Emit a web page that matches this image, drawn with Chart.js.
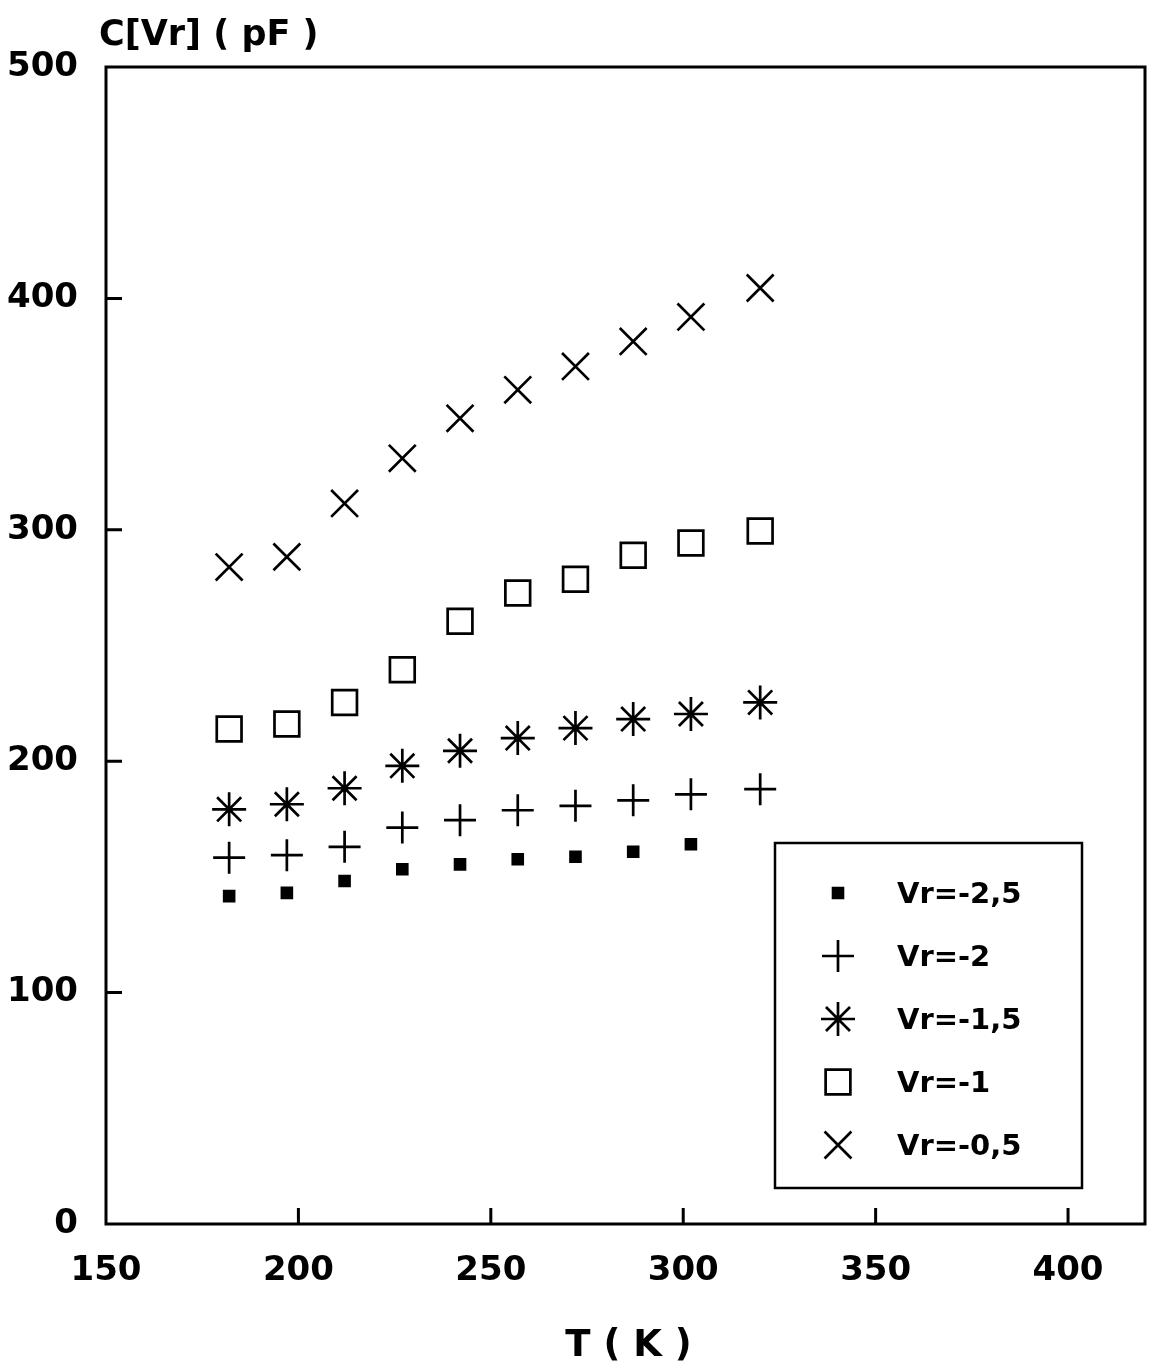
<!DOCTYPE html>
<html>
<head>
<meta charset="utf-8">
<title>C[Vr] vs T</title>
<script src="https://cdn.jsdelivr.net/npm/chart.js@4"></script>
<style>
  html, body { margin: 0; padding: 0; background: #fff; overflow: hidden; }
  #wrap { width: 1155px; height: 1362px; }
  canvas { display: block; }
</style>
</head>
<body>
<div id="wrap"><canvas id="myChart" width="1155" height="1362"></canvas></div>
<script>
// temperatures (K) and capacitance (pF)
const tempK = [182, 197, 212, 227, 242, 257, 272, 287, 302, 320];
const cVr25 = [141.7, 143.1, 148.2, 153.3, 155.4, 157.6, 158.7, 160.9, 164.1];
const cVr20 = [158.3, 159.4, 163.0, 171.3, 174.5, 178.8, 180.7, 183.1, 185.7, 187.9];
const cVr15 = [179.2, 181.4, 188.3, 198.0, 204.5, 210.0, 214.3, 218.2, 220.4, 225.4];
const cVr10 = [213.9, 216.1, 225.4, 239.5, 260.5, 272.7, 278.6, 289.0, 294.3, 299.5];
const cVr05 = [283.9, 288.3, 311.4, 330.9, 348.2, 360.5, 370.6, 381.4, 392.0, 404.5];

const seriesLabels = ["Vr=-2,5", "Vr=-2", "Vr=-1,5", "Vr=-1", "Vr=-0,5"];
const xTicks = [150, 200, 250, 300, 350, 400];
const yTicks = [0, 100, 200, 300, 400, 500];

const FONT = "'DejaVu Sans', sans-serif";

function pts(ys) {
  return ys.map((y, i) => ({ x: tempK[i], y: y }));
}

function mkSet(label, ys, style, radius, fill) {
  return {
    label: label,
    data: pts(ys),
    pointStyle: style,
    pointRadius: radius,
    pointHoverRadius: radius,
    pointBorderWidth: 2.7,
    borderColor: "#000",
    backgroundColor: fill,
    pointBackgroundColor: fill,
    pointBorderColor: "#000",
    showLine: false,
  };
}

// frame, inward tick marks, axis titles and boxed legend
const decorations = {
  id: "decorations",
  afterDraw(chart) {
    const ctx = chart.ctx;
    const a = chart.chartArea;
    const xs = chart.scales.x;
    const ys = chart.scales.y;
    ctx.save();
    ctx.strokeStyle = "#000";
    ctx.lineWidth = 3;
    ctx.strokeRect(a.left, a.top, a.right - a.left, a.bottom - a.top);

    ctx.beginPath();
    yTicks.forEach(v => {
      if (v === ys.min || v === ys.max) return;
      const py = ys.getPixelForValue(v);
      ctx.moveTo(a.left, py);
      ctx.lineTo(a.left + 16, py);
    });
    xTicks.forEach(v => {
      if (v === xs.min) return;
      const px = xs.getPixelForValue(v);
      ctx.moveTo(px, a.bottom);
      ctx.lineTo(px, a.bottom - 16);
    });
    ctx.stroke();

    ctx.fillStyle = "#000";
    ctx.font = "bold 35px " + FONT;
    ctx.textBaseline = "alphabetic";
    ctx.textAlign = "left";
    ctx.fillText("C[Vr] ( pF )", 99, 45);
    ctx.textAlign = "center";
    ctx.font = "bold 37px " + FONT;
    ctx.fillText("T ( K )", (a.left + a.right) / 2 + 3, 1356);

    // legend box
    const bx = 775, by = 843, bw = 307, bh = 345;
    ctx.lineWidth = 2.5;
    ctx.strokeRect(bx, by, bw, bh);
    ctx.font = "bold 29px " + FONT;
    ctx.textAlign = "left";
    ctx.textBaseline = "middle";
    chart.data.datasets.forEach((ds, i) => {
      const ry = 893 + i * 63;
      ctx.strokeStyle = "#000";
      ctx.fillStyle = ds.pointBackgroundColor;
      ctx.lineWidth = ds.pointBorderWidth;
      Chart.helpers.drawPoint(ctx, {
        pointStyle: ds.pointStyle,
        radius: ds.pointRadius,
        borderWidth: ds.pointBorderWidth,
        rotation: 0,
      }, 838, ry);
      ctx.fillStyle = "#000";
      ctx.fillText(ds.label, 897, ry + 2);
    });
    ctx.restore();
  },
};

const ctx = document.getElementById("myChart").getContext("2d");
const myChart = new Chart(ctx, {
  type: "scatter",
  data: {
    datasets: [
      mkSet(seriesLabels[0], cVr25, "rect", 7, "#000"),
      mkSet(seriesLabels[1], cVr20, "cross", 16, "rgba(0,0,0,0)"),
      mkSet(seriesLabels[2], cVr15, "star", 17, "rgba(0,0,0,0)"),
      mkSet(seriesLabels[3], cVr10, "rect", 17.5, "rgba(0,0,0,0)"),
      mkSet(seriesLabels[4], cVr05, "crossRot", 19, "rgba(0,0,0,0)"),
    ],
  },
  options: {
    responsive: false,
    animation: false,
    devicePixelRatio: 1,
    layout: { autoPadding: false, padding: { top: 67, right: 10, left: 0, bottom: 0 } },
    scales: {
      x: {
        type: "linear",
        min: 150,
        max: 420,
        afterFit: s => { s.height = 138; s.paddingLeft = 0; s.paddingRight = 0; },
        afterBuildTicks: s => { s.ticks = xTicks.map(v => ({ value: v })); },
        grid: { display: false, drawTicks: false },
        border: { display: false },
        ticks: {
          padding: 27,
          color: "#000",
          font: { family: FONT, size: 34, weight: "bold" },
        },
      },
      y: {
        type: "linear",
        min: 0,
        max: 500,
        afterFit: s => { s.width = 106; s.paddingTop = 0; s.paddingBottom = 0; },
        afterBuildTicks: s => { s.ticks = yTicks.map(v => ({ value: v })); },
        grid: { display: false, drawTicks: false },
        border: { display: false },
        ticks: {
          padding: 28,
          color: "#000",
          font: { family: FONT, size: 34, weight: "bold" },
        },
      },
    },
    plugins: {
      legend: { display: false },
      tooltip: { enabled: false },
    },
  },
  plugins: [decorations],
});
</script>
</body>
</html>
